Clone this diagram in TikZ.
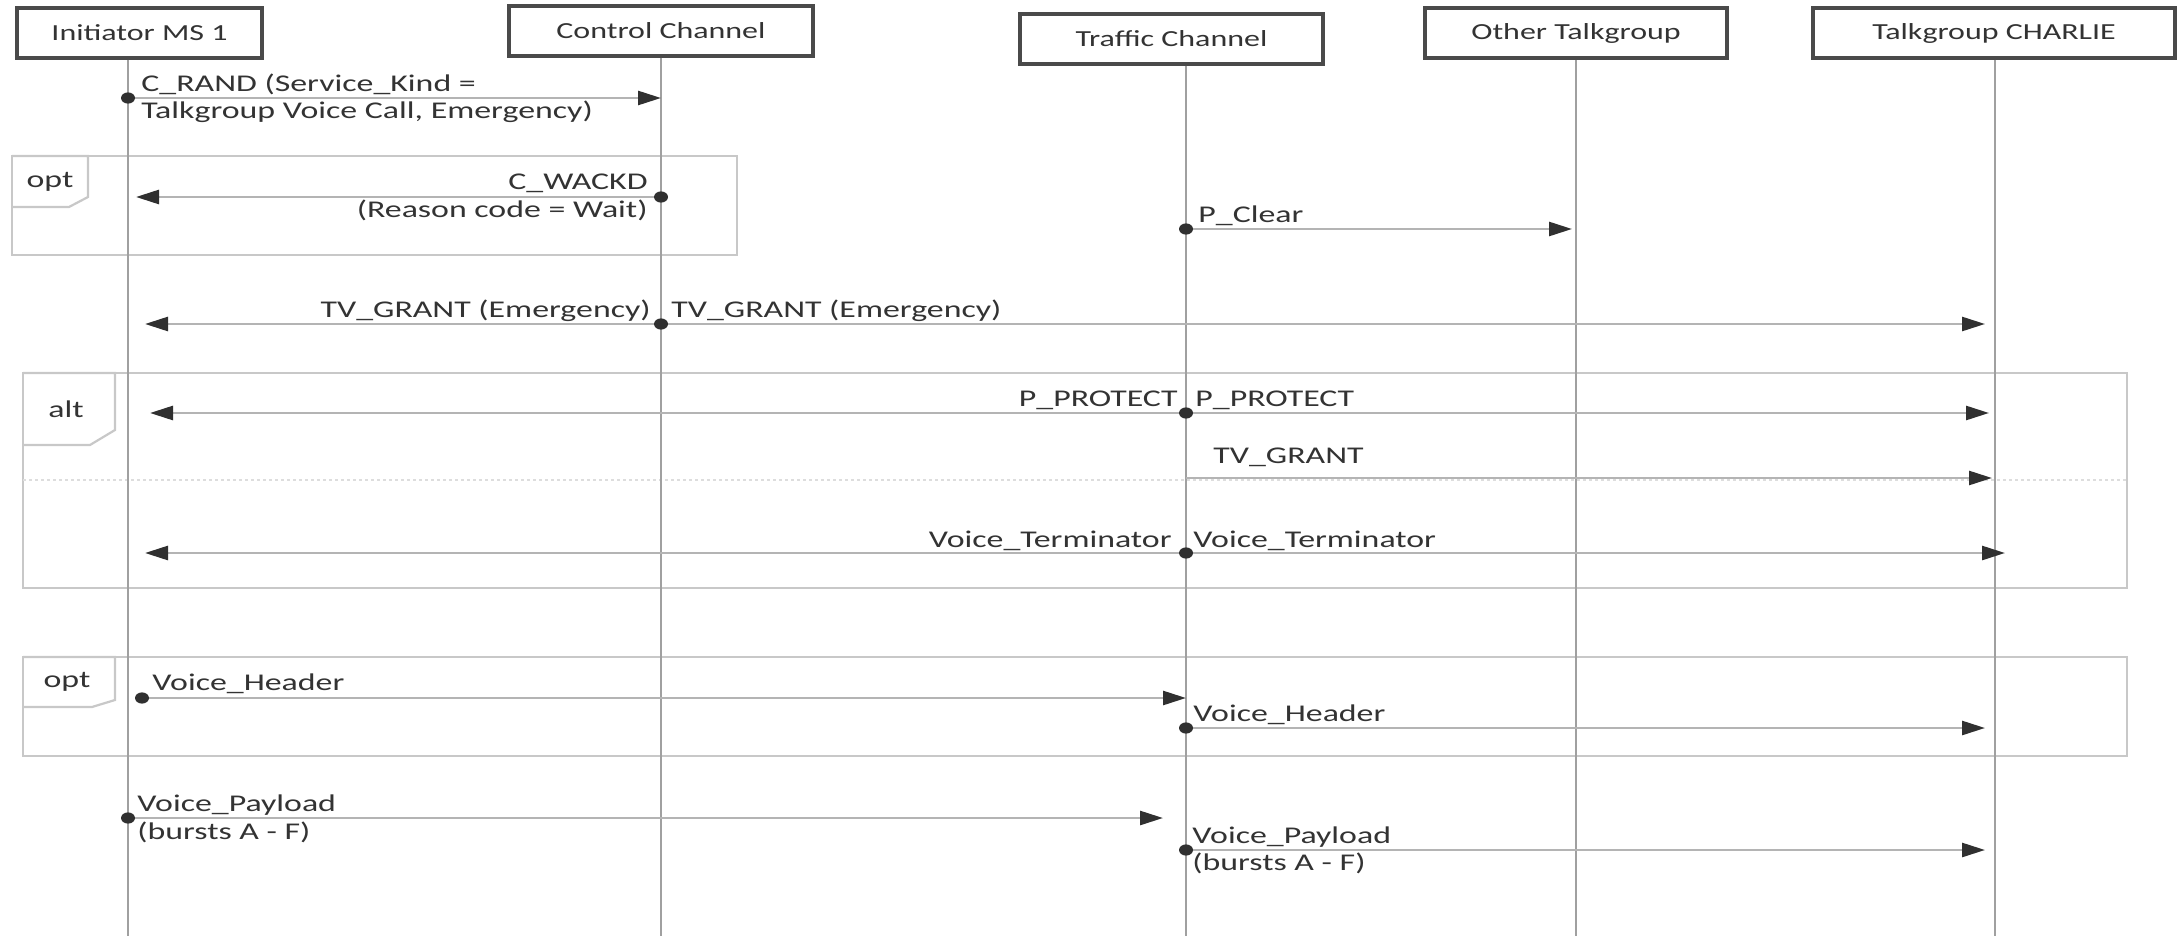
\documentclass[tikz,border=0pt]{standalone}
\usepackage{fontspec}
\setmainfont{Carlito}[FakeStretch=1.39]
\newfontfamily\lblfont{Carlito}[FakeStretch=1.41]
\usetikzlibrary{arrows.meta}
\definecolor{txt}{HTML}{333333}
\definecolor{llc}{HTML}{A0A0A0}
\definecolor{msgc}{HTML}{B4B4B4}
\definecolor{frc}{HTML}{C8C8C8}
\definecolor{sepc}{HTML}{DDDDDD}
\definecolor{boxc}{HTML}{4A4A4A}
\definecolor{headc}{HTML}{303030}
\begin{document}
\begin{tikzpicture}[x=0.5pt,y=-0.5pt,
  txtf/.style={font=\fontsize{11.5pt}{13.7pt}\selectfont, text=txt},
  lblf/.style={font=\lblfont\fontsize{12pt}{13.7pt}\selectfont, text=txt},
  actor/.style={draw=boxc, line width=2pt, fill=white, minimum height=25pt, inner sep=0pt, txtf},
  lifeline/.style={draw=llc, line width=1.1pt},
  msg/.style={draw=msgc, line width=1.3pt, -{Triangle[length=11.5pt,width=7pt,color=headc]}},
  lbl/.style={inner sep=0pt, lblf},
  frame/.style={draw=frc, line width=1.1pt},
  sepline/.style={draw=sepc, line width=1pt, dash pattern=on 1.5pt off 1.5pt},
  dotm/.style={fill=headc}
]
\useasboundingbox (0,0) rectangle (2183,936);
\fill[white] (0,0) rectangle (2183,936);

% lifeline bottoms
\coordinate (l1) at (128,936);
\coordinate (l2) at (661,936);
\coordinate (l3) at (1186,936);
\coordinate (l4) at (1576,936);
\coordinate (l5) at (1995,936);
% message rows
\coordinate (r1) at (0,98);
\coordinate (r2) at (0,197);
\coordinate (r3) at (0,229);
\coordinate (r4) at (0,324);
\coordinate (r5) at (0,413);
\coordinate (r6) at (0,478);
\coordinate (r7) at (0,553);
\coordinate (vh1) at (142,698);
\coordinate (r9) at (0,728);
\coordinate (r10) at (0,818);
\coordinate (r11) at (0,850);

% frames
\draw[frame] (12,156) rectangle (737,255);
\draw[frame] (12,156) -- (88,156) -- (88,197) -- (69,207) -- (12,207);
\node[lbl] (optA) at (50,182) {opt};

\draw[frame] (23,373) rectangle (2127,588);
\draw[frame] (23,373) -- (115,373) -- (115,430) -- (90,445) -- (23,445);
\node[lbl] (altA) at (66,409) {alt};
\draw[sepline] (23,480) -- (2127,480);

\draw[frame] (23,657) rectangle (2127,756);
\draw[frame] (23,657) -- (115,657) -- (115,700) -- (92,707) -- (23,707);
\node[lbl] (optB) at (67,682) {opt};

% actors
\node[actor, minimum width=122.5pt] (b1) at (139.5,33) {Initiator MS 1};
\node[actor, minimum width=152pt] (b2) at (661,31) {Control Channel};
\node[actor, minimum width=151.5pt] (b3) at (1171.5,39) {Traffic Channel};
\node[actor, minimum width=151pt] (b4) at (1576,33.5) {Other Talkgroup};
\node[actor, minimum width=181pt] (b5) at (1994,33) {Talkgroup CHARLIE};

% lifelines
\draw[lifeline] (l1 |- b1.south) -- (l1);
\draw[lifeline] (l2 |- b2.south) -- (l2);
\draw[lifeline] (l3 |- b3.south) -- (l3);
\draw[lifeline] (l4 |- b4.south) -- (l4);
\draw[lifeline] (l5 |- b5.south) -- (l5);

% messages
\draw[msg] (l1 |- r1) -- (l2 |- r1);
\fill[dotm] (l1 |- r1) ellipse [x radius=3.5pt, y radius=2.8pt];
\node[lbl, anchor=west, align=left] (t1) at (141,98.5) {C\_RAND (Service\_Kind =\\Talkgroup Voice Call, Emergency)};

\draw[msg, shorten >=4pt] (l2 |- r2) -- (l1 |- r2);
\fill[dotm] (l2 |- r2) ellipse [x radius=3.5pt, y radius=2.8pt];
\node[lbl, anchor=east, align=right] (t2) at (648,197.5) {C\_WACKD\\(Reason code = Wait)};

\draw[msg, shorten >=2pt] (l3 |- r3) -- (l4 |- r3);
\fill[dotm] (l3 |- r3) ellipse [x radius=3.5pt, y radius=2.8pt];
\node[lbl, anchor=base west] (t3) at (1198,223) {P\_Clear};

\draw[msg, shorten >=8.5pt] (l2 |- r4) -- (l1 |- r4);
\draw[msg, shorten >=5pt] (l2 |- r4) -- (l5 |- r4);
\fill[dotm] (l2 |- r4) ellipse [x radius=3.5pt, y radius=2.8pt];
\node[lbl, anchor=base east] (t4a) at (651,317) {TV\_GRANT (Emergency)};
\node[lbl, anchor=base west] (t4b) at (671,317) {TV\_GRANT (Emergency)};

\draw[msg, shorten >=11pt] (l3 |- r5) -- (l1 |- r5);
\draw[msg, shorten >=3pt] (l3 |- r5) -- (l5 |- r5);
\fill[dotm] (l3 |- r5) ellipse [x radius=3.5pt, y radius=2.8pt];
\node[lbl, anchor=base east] (t5a) at (1178,406) {P\_PROTECT};
\node[lbl, anchor=base west] (t5b) at (1195,406) {P\_PROTECT};

\draw[msg, shorten >=1.5pt] (l3 |- r6) -- (l5 |- r6);
\node[lbl, anchor=base west] (t6) at (1213,463) {TV\_GRANT};

\draw[msg, shorten >=8.5pt] (l3 |- r7) -- (l1 |- r7);
\draw[msg, shorten >=-5pt] (l3 |- r7) -- (l5 |- r7);
\fill[dotm] (l3 |- r7) ellipse [x radius=3.5pt, y radius=2.8pt];
\node[lbl, anchor=base east] (t7a) at (1172,547) {Voice\_Terminator};
\node[lbl, anchor=base west] (t7b) at (1193,547) {Voice\_Terminator};

\draw[msg] (vh1) -- (l3 |- vh1);
\fill[dotm] (vh1) ellipse [x radius=3.5pt, y radius=2.8pt];
\node[lbl, anchor=base west] (t8) at (152,690) {Voice\_Header};

\draw[msg, shorten >=5pt] (l3 |- r9) -- (l5 |- r9);
\fill[dotm] (l3 |- r9) ellipse [x radius=3.5pt, y radius=2.8pt];
\node[lbl, anchor=base west] (t9) at (1193,721) {Voice\_Header};

\draw[msg, shorten >=11.5pt] (l1 |- r10) -- (l3 |- r10);
\fill[dotm] (l1 |- r10) ellipse [x radius=3.5pt, y radius=2.8pt];
\node[lbl, anchor=west, align=left] (t10) at (137,819) {Voice\_Payload\\(bursts A - F)};

\draw[msg, shorten >=5pt] (l3 |- r11) -- (l5 |- r11);
\fill[dotm] (l3 |- r11) ellipse [x radius=3.5pt, y radius=2.8pt];
\node[lbl, anchor=west, align=left] (t11) at (1192,850.5) {Voice\_Payload\\(bursts A - F)};
\end{tikzpicture}
\end{document}
